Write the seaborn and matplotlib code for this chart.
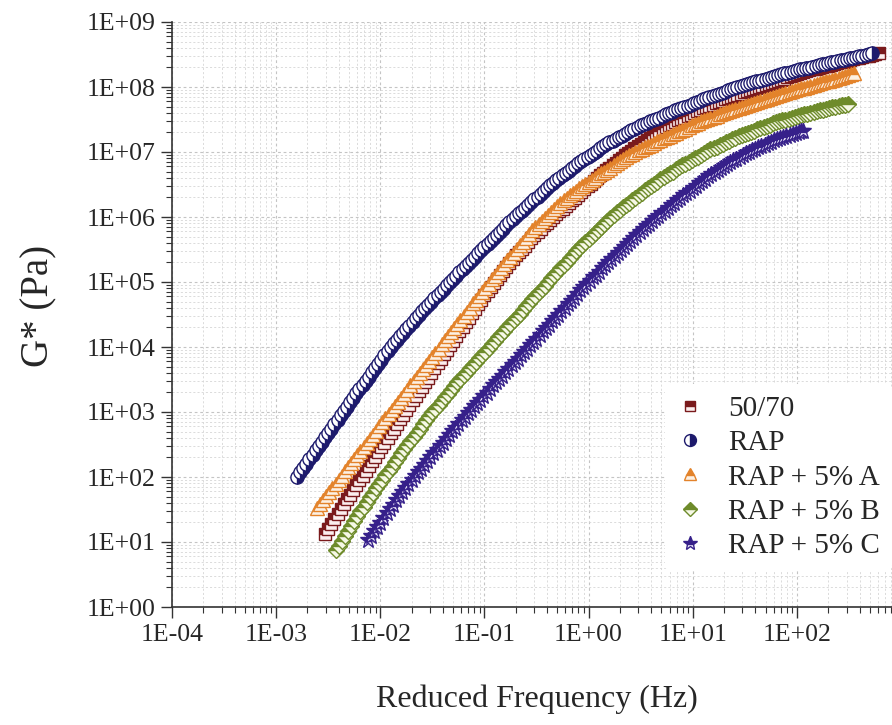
import numpy as np
import matplotlib
matplotlib.use("Agg")
import matplotlib.pyplot as plt
from matplotlib.ticker import LogLocator, FuncFormatter, NullFormatter
import seaborn as sns

# Master curves as (log10 reduced frequency [Hz], log10 |G*| [Pa]) pairs
pts_5070 = [(-2.53, 1.13), (-2.50, 1.205), (-2.47, 1.28), (-2.44, 1.355), (-2.41, 1.43), (-2.38, 1.505),
            (-2.35, 1.58), (-2.32, 1.655), (-2.29, 1.73), (-2.26, 1.805), (-2.23, 1.88), (-2.20, 1.95),
            (-2.17, 2.02), (-2.14, 2.095), (-2.11, 2.17), (-2.08, 2.24), (-2.05, 2.31), (-2.02, 2.385),
            (-1.99, 2.46), (-1.96, 2.53), (-1.93, 2.60), (-1.90, 2.67), (-1.87, 2.74), (-1.84, 2.815),
            (-1.81, 2.89), (-1.78, 2.96), (-1.75, 3.03), (-1.72, 3.105), (-1.69, 3.18), (-1.66, 3.25),
            (-1.63, 3.32), (-1.60, 3.39), (-1.57, 3.46), (-1.54, 3.53), (-1.51, 3.60), (-1.48, 3.675),
            (-1.45, 3.75), (-1.42, 3.82), (-1.39, 3.89), (-1.36, 3.96), (-1.33, 4.03), (-1.30, 4.10),
            (-1.27, 4.17), (-1.24, 4.24), (-1.21, 4.31), (-1.18, 4.38), (-1.15, 4.45), (-1.12, 4.52),
            (-1.09, 4.59), (-1.06, 4.66), (-1.03, 4.73), (-1.00, 4.795), (-0.97, 4.86), (-0.94, 4.92),
            (-0.91, 4.98), (-0.88, 5.045), (-0.85, 5.11), (-0.82, 5.17), (-0.79, 5.23), (-0.76, 5.295),
            (-0.73, 5.36), (-0.70, 5.41), (-0.67, 5.46), (-0.64, 5.51), (-0.61, 5.56), (-0.58, 5.615),
            (-0.55, 5.67), (-0.52, 5.72), (-0.49, 5.77), (-0.46, 5.82), (-0.43, 5.87), (-0.40, 5.915),
            (-0.37, 5.96), (-0.34, 6.00), (-0.31, 6.04), (-0.28, 6.085), (-0.25, 6.13), (-0.22, 6.17),
            (-0.19, 6.21), (-0.16, 6.255), (-0.13, 6.30), (-0.10, 6.34), (-0.07, 6.38), (-0.04, 6.425),
            (-0.01, 6.47), (0.02, 6.51), (0.05, 6.55), (0.08, 6.595), (0.11, 6.64), (0.14, 6.68),
            (0.17, 6.72), (0.20, 6.76), (0.23, 6.80), (0.26, 6.835), (0.29, 6.87), (0.32, 6.91),
            (0.35, 6.95), (0.38, 6.985), (0.41, 7.02), (0.44, 7.06), (0.47, 7.10), (0.50, 7.13),
            (0.53, 7.16), (0.56, 7.19), (0.59, 7.22), (0.62, 7.255), (0.65, 7.29), (0.68, 7.32),
            (0.71, 7.35), (0.74, 7.38), (0.77, 7.41), (0.80, 7.435), (0.83, 7.46), (0.86, 7.485),
            (0.89, 7.51), (0.92, 7.53), (0.95, 7.55), (0.98, 7.575), (1.01, 7.60), (1.04, 7.625),
            (1.07, 7.65), (1.10, 7.67), (1.13, 7.69), (1.16, 7.71), (1.19, 7.73), (1.22, 7.75),
            (1.25, 7.77), (1.28, 7.79), (1.31, 7.81), (1.34, 7.83), (1.37, 7.85), (1.40, 7.865),
            (1.43, 7.88), (1.46, 7.90), (1.49, 7.92), (1.52, 7.935), (1.55, 7.95), (1.58, 7.97),
            (1.61, 7.99), (1.64, 8.005), (1.67, 8.02), (1.70, 8.035), (1.73, 8.05), (1.76, 8.065),
            (1.79, 8.08), (1.82, 8.095), (1.85, 8.11), (1.88, 8.13), (1.91, 8.15), (1.94, 8.165),
            (1.97, 8.18), (2.00, 8.195), (2.03, 8.21), (2.06, 8.225), (2.09, 8.24), (2.12, 8.255),
            (2.15, 8.27), (2.18, 8.28), (2.21, 8.29), (2.24, 8.305), (2.27, 8.32), (2.30, 8.33),
            (2.33, 8.34), (2.36, 8.355), (2.39, 8.37), (2.42, 8.38), (2.45, 8.39), (2.48, 8.405),
            (2.51, 8.42), (2.54, 8.43), (2.57, 8.44), (2.60, 8.45), (2.63, 8.46), (2.66, 8.47),
            (2.69, 8.48), (2.72, 8.495), (2.75, 8.51), (2.79, 8.52)]

pts_rap = [(-2.80, 2.00), (-2.77, 2.07), (-2.74, 2.14), (-2.71, 2.205), (-2.68, 2.27), (-2.65, 2.34),
           (-2.62, 2.41), (-2.59, 2.475), (-2.56, 2.54), (-2.53, 2.61), (-2.50, 2.68), (-2.47, 2.745),
           (-2.44, 2.81), (-2.41, 2.88), (-2.38, 2.95), (-2.35, 3.015), (-2.32, 3.08), (-2.29, 3.15),
           (-2.26, 3.22), (-2.23, 3.285), (-2.20, 3.35), (-2.17, 3.415), (-2.14, 3.48), (-2.11, 3.545),
           (-2.08, 3.61), (-2.05, 3.675), (-2.02, 3.74), (-1.99, 3.805), (-1.96, 3.87), (-1.93, 3.935),
           (-1.90, 4.00), (-1.87, 4.055), (-1.84, 4.11), (-1.81, 4.165), (-1.78, 4.22), (-1.75, 4.275),
           (-1.72, 4.33), (-1.69, 4.385), (-1.66, 4.44), (-1.63, 4.495), (-1.60, 4.55), (-1.57, 4.60),
           (-1.54, 4.65), (-1.51, 4.70), (-1.48, 4.75), (-1.45, 4.80), (-1.42, 4.85), (-1.39, 4.90),
           (-1.36, 4.95), (-1.33, 5.00), (-1.30, 5.05), (-1.27, 5.10), (-1.24, 5.15), (-1.21, 5.20),
           (-1.18, 5.25), (-1.15, 5.295), (-1.12, 5.34), (-1.09, 5.39), (-1.06, 5.44), (-1.03, 5.49),
           (-1.00, 5.54), (-0.97, 5.585), (-0.94, 5.63), (-0.91, 5.68), (-0.88, 5.73), (-0.85, 5.775),
           (-0.82, 5.82), (-0.79, 5.87), (-0.76, 5.92), (-0.73, 5.965), (-0.70, 6.01), (-0.67, 6.055),
           (-0.64, 6.10), (-0.61, 6.145), (-0.58, 6.19), (-0.55, 6.23), (-0.52, 6.27), (-0.49, 6.315),
           (-0.46, 6.36), (-0.43, 6.405), (-0.40, 6.45), (-0.37, 6.49), (-0.34, 6.53), (-0.31, 6.565),
           (-0.28, 6.60), (-0.25, 6.64), (-0.22, 6.68), (-0.19, 6.715), (-0.16, 6.75), (-0.13, 6.79),
           (-0.10, 6.83), (-0.07, 6.86), (-0.04, 6.89), (-0.01, 6.925), (0.02, 6.96), (0.05, 6.99),
           (0.08, 7.02), (0.11, 7.055), (0.14, 7.09), (0.17, 7.12), (0.20, 7.15), (0.23, 7.175),
           (0.26, 7.20), (0.29, 7.225), (0.32, 7.25), (0.35, 7.28), (0.38, 7.31), (0.41, 7.335),
           (0.44, 7.36), (0.47, 7.385), (0.50, 7.41), (0.53, 7.43), (0.56, 7.45), (0.59, 7.47),
           (0.62, 7.49), (0.65, 7.51), (0.68, 7.53), (0.71, 7.555), (0.74, 7.58), (0.77, 7.60),
           (0.80, 7.62), (0.83, 7.64), (0.86, 7.66), (0.89, 7.68), (0.92, 7.70), (0.95, 7.715),
           (0.98, 7.73), (1.01, 7.75), (1.04, 7.77), (1.07, 7.79), (1.10, 7.81), (1.13, 7.825),
           (1.16, 7.84), (1.19, 7.86), (1.22, 7.88), (1.25, 7.895), (1.28, 7.91), (1.31, 7.93),
           (1.34, 7.95), (1.37, 7.965), (1.40, 7.98), (1.43, 7.995), (1.46, 8.01), (1.49, 8.025),
           (1.52, 8.04), (1.55, 8.055), (1.58, 8.07), (1.61, 8.085), (1.64, 8.10), (1.67, 8.115),
           (1.70, 8.13), (1.73, 8.145), (1.76, 8.16), (1.79, 8.17), (1.82, 8.18), (1.85, 8.195),
           (1.88, 8.21), (1.91, 8.22), (1.94, 8.23), (1.97, 8.245), (2.00, 8.26), (2.03, 8.27),
           (2.06, 8.28), (2.09, 8.29), (2.12, 8.30), (2.15, 8.315), (2.18, 8.33), (2.21, 8.34),
           (2.24, 8.35), (2.27, 8.36), (2.30, 8.37), (2.33, 8.38), (2.36, 8.39), (2.39, 8.40),
           (2.42, 8.41), (2.45, 8.42), (2.48, 8.43), (2.51, 8.44), (2.54, 8.45), (2.57, 8.46),
           (2.60, 8.47), (2.63, 8.48), (2.66, 8.49), (2.69, 8.505), (2.72, 8.52)]

pts_rap_a = [(-2.61, 1.52), (-2.58, 1.585), (-2.55, 1.65), (-2.52, 1.71), (-2.49, 1.77), (-2.46, 1.835),
             (-2.43, 1.90), (-2.40, 1.96), (-2.37, 2.02), (-2.34, 2.085), (-2.31, 2.15), (-2.28, 2.215),
             (-2.25, 2.28), (-2.22, 2.34), (-2.19, 2.40), (-2.16, 2.465), (-2.13, 2.53), (-2.10, 2.59),
             (-2.07, 2.65), (-2.04, 2.715), (-2.01, 2.78), (-1.98, 2.845), (-1.95, 2.91), (-1.92, 2.97),
             (-1.89, 3.03), (-1.86, 3.095), (-1.83, 3.16), (-1.80, 3.22), (-1.77, 3.28), (-1.74, 3.345),
             (-1.71, 3.41), (-1.68, 3.475), (-1.65, 3.54), (-1.62, 3.60), (-1.59, 3.66), (-1.56, 3.725),
             (-1.53, 3.79), (-1.50, 3.85), (-1.47, 3.91), (-1.44, 3.975), (-1.41, 4.04), (-1.38, 4.105),
             (-1.35, 4.17), (-1.32, 4.23), (-1.29, 4.29), (-1.26, 4.355), (-1.23, 4.42), (-1.20, 4.48),
             (-1.17, 4.54), (-1.14, 4.605), (-1.11, 4.67), (-1.08, 4.73), (-1.05, 4.79), (-1.02, 4.85),
             (-0.99, 4.91), (-0.96, 4.975), (-0.93, 5.04), (-0.90, 5.10), (-0.87, 5.16), (-0.84, 5.22),
             (-0.81, 5.28), (-0.78, 5.335), (-0.75, 5.39), (-0.72, 5.45), (-0.69, 5.51), (-0.66, 5.565),
             (-0.63, 5.62), (-0.60, 5.68), (-0.57, 5.74), (-0.54, 5.795), (-0.51, 5.85), (-0.48, 5.895),
             (-0.45, 5.94), (-0.42, 5.985), (-0.39, 6.03), (-0.36, 6.075), (-0.33, 6.12), (-0.30, 6.165),
             (-0.27, 6.21), (-0.24, 6.255), (-0.21, 6.30), (-0.18, 6.335), (-0.15, 6.37), (-0.12, 6.405),
             (-0.09, 6.44), (-0.06, 6.475), (-0.03, 6.51), (0.00, 6.54), (0.03, 6.57), (0.06, 6.605),
             (0.09, 6.64), (0.12, 6.67), (0.15, 6.70), (0.18, 6.73), (0.21, 6.76), (0.24, 6.795),
             (0.27, 6.83), (0.30, 6.86), (0.33, 6.89), (0.36, 6.92), (0.39, 6.95), (0.42, 6.975),
             (0.45, 7.00), (0.48, 7.025), (0.51, 7.05), (0.54, 7.07), (0.57, 7.09), (0.60, 7.115),
             (0.63, 7.14), (0.66, 7.165), (0.69, 7.19), (0.72, 7.21), (0.75, 7.23), (0.78, 7.25),
             (0.81, 7.27), (0.84, 7.295), (0.87, 7.32), (0.90, 7.34), (0.93, 7.36), (0.96, 7.385),
             (0.99, 7.41), (1.02, 7.43), (1.05, 7.45), (1.08, 7.47), (1.11, 7.49), (1.14, 7.505),
             (1.17, 7.52), (1.20, 7.54), (1.23, 7.56), (1.26, 7.58), (1.29, 7.60), (1.32, 7.615),
             (1.35, 7.63), (1.38, 7.645), (1.41, 7.66), (1.44, 7.68), (1.47, 7.70), (1.50, 7.715),
             (1.53, 7.73), (1.56, 7.745), (1.59, 7.76), (1.62, 7.775), (1.65, 7.79), (1.68, 7.805),
             (1.71, 7.82), (1.74, 7.835), (1.77, 7.85), (1.80, 7.865), (1.83, 7.88), (1.86, 7.895),
             (1.89, 7.91), (1.92, 7.925), (1.95, 7.94), (1.98, 7.955), (2.01, 7.97), (2.04, 7.98),
             (2.07, 7.99), (2.10, 8.005), (2.13, 8.02), (2.16, 8.035), (2.19, 8.05), (2.22, 8.065),
             (2.25, 8.08), (2.28, 8.09), (2.31, 8.10), (2.34, 8.115), (2.37, 8.13), (2.40, 8.145),
             (2.43, 8.16), (2.46, 8.17), (2.49, 8.18), (2.52, 8.195), (2.55, 8.21)]

pts_rap_b = [(-2.43, 0.87), (-2.40, 0.945), (-2.37, 1.02), (-2.34, 1.095), (-2.31, 1.17), (-2.28, 1.245),
             (-2.25, 1.32), (-2.22, 1.395), (-2.19, 1.47), (-2.16, 1.545), (-2.13, 1.62), (-2.10, 1.69),
             (-2.07, 1.76), (-2.04, 1.825), (-2.01, 1.89), (-1.98, 1.96), (-1.95, 2.03), (-1.92, 2.095),
             (-1.89, 2.16), (-1.86, 2.23), (-1.83, 2.30), (-1.80, 2.365), (-1.77, 2.43), (-1.74, 2.495),
             (-1.71, 2.56), (-1.68, 2.62), (-1.65, 2.68), (-1.62, 2.745), (-1.59, 2.81), (-1.56, 2.875),
             (-1.53, 2.94), (-1.50, 2.995), (-1.47, 3.05), (-1.44, 3.11), (-1.41, 3.17), (-1.38, 3.225),
             (-1.35, 3.28), (-1.32, 3.34), (-1.29, 3.40), (-1.26, 3.455), (-1.23, 3.51), (-1.20, 3.565),
             (-1.17, 3.62), (-1.14, 3.67), (-1.11, 3.72), (-1.08, 3.775), (-1.05, 3.83), (-1.02, 3.88),
             (-0.99, 3.93), (-0.96, 3.985), (-0.93, 4.04), (-0.90, 4.095), (-0.87, 4.15), (-0.84, 4.20),
             (-0.81, 4.25), (-0.78, 4.305), (-0.75, 4.36), (-0.72, 4.41), (-0.69, 4.46), (-0.66, 4.515),
             (-0.63, 4.57), (-0.60, 4.625), (-0.57, 4.68), (-0.54, 4.735), (-0.51, 4.79), (-0.48, 4.84),
             (-0.45, 4.89), (-0.42, 4.945), (-0.39, 5.00), (-0.36, 5.055), (-0.33, 5.11), (-0.30, 5.16),
             (-0.27, 5.21), (-0.24, 5.26), (-0.21, 5.31), (-0.18, 5.365), (-0.15, 5.42), (-0.12, 5.47),
             (-0.09, 5.52), (-0.06, 5.57), (-0.03, 5.62), (0.00, 5.665), (0.03, 5.71), (0.06, 5.755),
             (0.09, 5.80), (0.12, 5.845), (0.15, 5.89), (0.18, 5.935), (0.21, 5.98), (0.24, 6.025),
             (0.27, 6.07), (0.30, 6.11), (0.33, 6.15), (0.36, 6.185), (0.39, 6.22), (0.42, 6.26),
             (0.45, 6.30), (0.48, 6.335), (0.51, 6.37), (0.54, 6.41), (0.57, 6.45), (0.60, 6.48),
             (0.63, 6.51), (0.66, 6.545), (0.69, 6.58), (0.72, 6.61), (0.75, 6.64), (0.78, 6.67),
             (0.81, 6.70), (0.84, 6.735), (0.87, 6.77), (0.90, 6.795), (0.93, 6.82), (0.96, 6.85),
             (0.99, 6.88), (1.02, 6.905), (1.05, 6.93), (1.08, 6.96), (1.11, 6.99), (1.14, 7.015),
             (1.17, 7.04), (1.20, 7.06), (1.23, 7.08), (1.26, 7.105), (1.29, 7.13), (1.32, 7.15),
             (1.35, 7.17), (1.38, 7.195), (1.41, 7.22), (1.44, 7.24), (1.47, 7.26), (1.50, 7.28),
             (1.53, 7.30), (1.56, 7.315), (1.59, 7.33), (1.62, 7.35), (1.65, 7.37), (1.68, 7.385),
             (1.71, 7.40), (1.74, 7.42), (1.77, 7.44), (1.80, 7.455), (1.83, 7.47), (1.86, 7.485),
             (1.89, 7.50), (1.92, 7.51), (1.95, 7.52), (1.98, 7.535), (2.01, 7.55), (2.04, 7.565),
             (2.07, 7.58), (2.10, 7.59), (2.13, 7.60), (2.16, 7.615), (2.19, 7.63), (2.22, 7.64),
             (2.25, 7.65), (2.28, 7.665), (2.31, 7.68), (2.34, 7.69), (2.37, 7.70), (2.40, 7.71),
             (2.43, 7.72), (2.46, 7.73), (2.49, 7.74)]

pts_rap_c = [(-2.12, 1.03), (-2.09, 1.10), (-2.06, 1.17), (-2.03, 1.235), (-2.00, 1.30), (-1.97, 1.37),
             (-1.94, 1.44), (-1.91, 1.505), (-1.88, 1.57), (-1.85, 1.64), (-1.82, 1.71), (-1.79, 1.77),
             (-1.76, 1.83), (-1.73, 1.89), (-1.70, 1.95), (-1.67, 2.01), (-1.64, 2.07), (-1.61, 2.13),
             (-1.58, 2.19), (-1.55, 2.25), (-1.52, 2.31), (-1.49, 2.365), (-1.46, 2.42), (-1.43, 2.475),
             (-1.40, 2.53), (-1.37, 2.59), (-1.34, 2.65), (-1.31, 2.705), (-1.28, 2.76), (-1.25, 2.815),
             (-1.22, 2.87), (-1.19, 2.925), (-1.16, 2.98), (-1.13, 3.035), (-1.10, 3.09), (-1.07, 3.14),
             (-1.04, 3.19), (-1.01, 3.245), (-0.98, 3.30), (-0.95, 3.355), (-0.92, 3.41), (-0.89, 3.46),
             (-0.86, 3.51), (-0.83, 3.56), (-0.80, 3.61), (-0.77, 3.665), (-0.74, 3.72), (-0.71, 3.77),
             (-0.68, 3.82), (-0.65, 3.87), (-0.62, 3.92), (-0.59, 3.975), (-0.56, 4.03), (-0.53, 4.08),
             (-0.50, 4.13), (-0.47, 4.185), (-0.44, 4.24), (-0.41, 4.29), (-0.38, 4.34), (-0.35, 4.395),
             (-0.32, 4.45), (-0.29, 4.50), (-0.26, 4.55), (-0.23, 4.605), (-0.20, 4.66), (-0.17, 4.71),
             (-0.14, 4.76), (-0.11, 4.815), (-0.08, 4.87), (-0.05, 4.92), (-0.02, 4.97), (0.01, 5.02),
             (0.04, 5.07), (0.07, 5.115), (0.10, 5.16), (0.13, 5.21), (0.16, 5.26), (0.19, 5.305),
             (0.22, 5.35), (0.25, 5.40), (0.28, 5.45), (0.31, 5.495), (0.34, 5.54), (0.37, 5.585),
             (0.40, 5.63), (0.43, 5.675), (0.46, 5.72), (0.49, 5.765), (0.52, 5.81), (0.55, 5.855),
             (0.58, 5.90), (0.61, 5.94), (0.64, 5.98), (0.67, 6.02), (0.70, 6.06), (0.73, 6.10),
             (0.76, 6.14), (0.79, 6.18), (0.82, 6.22), (0.85, 6.26), (0.88, 6.30), (0.91, 6.335),
             (0.94, 6.37), (0.97, 6.405), (1.00, 6.44), (1.03, 6.48), (1.06, 6.52), (1.09, 6.555),
             (1.12, 6.59), (1.15, 6.625), (1.18, 6.66), (1.21, 6.69), (1.24, 6.72), (1.27, 6.75),
             (1.30, 6.78), (1.33, 6.81), (1.36, 6.84), (1.39, 6.87), (1.42, 6.90), (1.45, 6.93),
             (1.48, 6.96), (1.51, 6.98), (1.54, 7.00), (1.57, 7.025), (1.60, 7.05), (1.63, 7.07),
             (1.66, 7.09), (1.69, 7.115), (1.72, 7.14), (1.75, 7.16), (1.78, 7.18), (1.81, 7.195),
             (1.84, 7.21), (1.87, 7.23), (1.90, 7.25), (1.93, 7.265), (1.96, 7.28), (1.99, 7.295),
             (2.02, 7.31), (2.04, 7.32), (2.06, 7.33)]

series_labels = ["50/70", "RAP", "RAP + 5% A", "RAP + 5% B", "RAP + 5% C"]
series_points = [pts_5070, pts_rap, pts_rap_a, pts_rap_b, pts_rap_c]

styles = [
    dict(marker="s", markersize=8.5, color="#7a1a1c", markeredgecolor="#7a1a1c",
         fillstyle="top", markerfacecoloralt="#fbeeee", zorder=3),
    dict(marker="o", markersize=9.5, color="#1d1a6c", markeredgecolor="#1d1a6c",
         fillstyle="right", markerfacecoloralt="white", zorder=7),
    dict(marker="^", markersize=10, color="#e3832b", markeredgecolor="#e3832b",
         fillstyle="top", markerfacecoloralt="#fdf0e2", zorder=4),
    dict(marker="D", markersize=8, color="#6e8b2b", markeredgecolor="#6e8b2b",
         fillstyle="top", markerfacecoloralt="#f6f8e6", zorder=5),
    dict(marker="*", markersize=12, color="#36208a", markeredgecolor="#36208a",
         fillstyle="top", markerfacecoloralt="#ece8fa", zorder=6),
]

sns.set_style("white")
plt.rcParams["font.family"] = ["Liberation Serif", "DejaVu Serif"]

fig = plt.figure(figsize=(8.92, 7.25), dpi=100)
ax = fig.add_axes([172 / 892, 118 / 725, 729 / 892, 585 / 725])

for label, pts, st in zip(series_labels, series_points, styles):
    lf, lg = zip(*pts)
    sns.lineplot(x=10.0 ** np.asarray(lf), y=10.0 ** np.asarray(lg), ax=ax, label=label,
                 linestyle="", markeredgewidth=1.0, errorbar=None, sort=False, **st)

ax.set_xscale("log")
ax.set_yscale("log")
ax.set_xlim(1e-4, 1e3)
ax.set_ylim(1e0, 1e9)


def decade_label(v, pos):
    e = int(round(np.log10(v)))
    return f"1E{e:+03d}"


def x_decade_label(v, pos):
    # the frequency axis runs past the figure edge; label only the decades inside it
    return decade_label(v, pos) if v < 5e2 else ""


for axis, fmt in ((ax.xaxis, x_decade_label), (ax.yaxis, decade_label)):
    axis.set_major_locator(LogLocator(base=10, numticks=20))
    axis.set_minor_locator(LogLocator(base=10, subs=np.arange(2, 10), numticks=20))
    axis.set_major_formatter(FuncFormatter(fmt))
    axis.set_minor_formatter(NullFormatter())

ax.tick_params(which="major", direction="out", length=8, width=1.0, color="#333333",
               labelsize=18.5, pad=4, bottom=True, left=True)
ax.tick_params(which="minor", direction="out", length=4.5, width=0.8, color="#333333",
               bottom=True, left=True)

ax.set_axisbelow(True)
ax.grid(True, which="major", color="#c4c4c4", linestyle=(0, (2.5, 2.5)), linewidth=0.8)
ax.grid(True, which="minor", color="#d6d6d6", linestyle=(0, (2.5, 2.5)), linewidth=0.6)

for side in ("top", "right"):
    ax.spines[side].set_visible(False)
for side in ("left", "bottom"):
    ax.spines[side].set_color("#333333")
    ax.spines[side].set_linewidth(1.2)

ax.set_xlabel("Reduced Frequency (Hz)", fontsize=23, labelpad=28)
ax.set_ylabel("G* (Pa)", fontsize=28)
ax.yaxis.set_label_coords((57 - 172) / 729, (607 - 306) / 585)

handles, labels = ax.get_legend_handles_labels()
leg = ax.legend(handles, labels, loc="upper left", bbox_to_anchor=(665 / 892, 1 - 384 / 725),
                bbox_transform=fig.transFigure, frameon=True, facecolor="white", edgecolor="none",
                framealpha=1.0, fontsize=21, handlelength=0.9, handletextpad=0.87,
                labelspacing=0.27, borderpad=0.4, borderaxespad=0.0, numpoints=1,
                markerscale=0.9)
leg.set_zorder(10)

fig.savefig("out.png", dpi=100)
